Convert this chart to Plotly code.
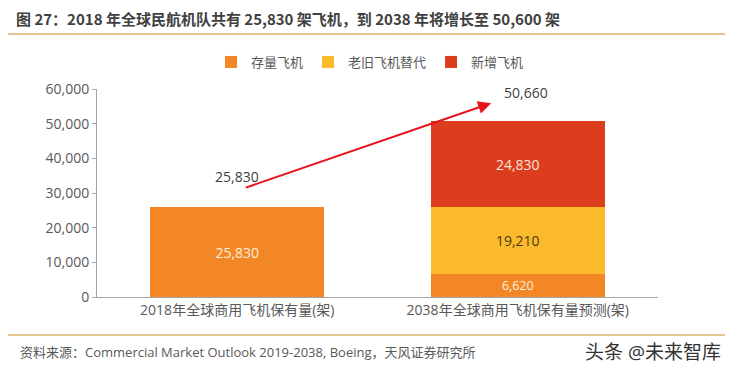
import plotly.graph_objects as go

categories = ["2018年全球商用飞机保有量(架)", "2038年全球商用飞机保有量预测(架)"]
stock = [25830, 6620]
replace = [None, 19210]
new = [None, 24830]
totals = [25830, 50660]
series_names = ["存量飞机", "老旧飞机替代", "新增飞机"]
colors = ["#F38725", "#FBBA2B", "#DC3E1D"]
title_text = "图 27：2018 年全球民航机队共有 25,830 架飞机，到 2038 年将增长至 50,600 架"
source_text = "资料来源：Commercial Market Outlook 2019-2038, Boeing，天风证券研究所"
watermark = "头条 @未来智库"

FONT = "Open Sans, Noto Sans CJK SC, sans-serif"

OFF = 8  # page body margin
W, H = 733, 376
# target plot area in window pixels: x 97..658, y 89..297
L = 97 - OFF
T = 89 - OFF
R = W - (658 - OFF)
B = H - (297 - OFF)
PW, PH = W - L - R, H - T - B

def px(x):
    return (x - OFF - L) / PW

def py(y):
    return (H - B - (y - OFF)) / PH

def fmt(v):
    return "" if v is None else f"{v:,}"

fig = go.Figure()
text_colors = ["#FDF0DC", "#4A3A10", "#FBE3DA"]
for name, vals, col, tc in zip(series_names, [stock, replace, new], colors, text_colors):
    fig.add_trace(go.Bar(
        x=categories, y=vals, name=name, marker=dict(color=col, line=dict(width=0)),
        text=[fmt(v) for v in vals], textposition="inside", insidetextanchor="middle",
        textfont=dict(color=tc, size=14, family=FONT), hoverinfo="skip",
    ))

fig.update_layout(
    barmode="stack", bargap=0.38,
    width=W, height=H,
    margin=dict(l=L, r=R, t=T, b=B, autoexpand=False),
    paper_bgcolor="white", plot_bgcolor="white",
    font=dict(family=FONT, color="#595959", size=13),
    showlegend=True,
    legend=dict(orientation="h", x=px(370), xanchor="center", y=py(62), yanchor="middle",
                font=dict(size=13, color="#595959"), traceorder="normal", itemwidth=30),
)

fig.update_yaxes(range=[0, 60000], dtick=10000, tickformat=",", showgrid=False,
                 showline=True, linecolor="#A6A6A6", linewidth=1, ticks="outside",
                 ticklen=4, tickcolor="#A6A6A6", tickfont=dict(size=14, color="#595959"),
                 zeroline=False)
fig.update_xaxes(showline=True, linecolor="#A6A6A6", linewidth=1, ticks="",
                 tickfont=dict(size=14, color="#595959"))

# total labels
fig.add_annotation(x=0, y=31500, text=fmt(totals[0]), showarrow=False,
                   yanchor="bottom", font=dict(size=14, color="#404040"))
fig.add_annotation(x=1, y=55800, text=fmt(totals[1]), showarrow=False, xshift=8,
                   yanchor="bottom", font=dict(size=14, color="#404040"))

# growth arrow
fig.add_annotation(x=0.905, y=55900, ax=0.025, ay=31400, xref="x", yref="y",
                   axref="x", ayref="y", showarrow=True, arrowhead=2, arrowsize=1.3,
                   arrowwidth=2, arrowcolor="#E8141B", text="")

# title & separators
fig.add_annotation(xref="paper", yref="paper", x=px(14), y=py(18), xanchor="left",
                   yanchor="middle", text="<b>" + title_text + "</b>", showarrow=False,
                   font=dict(size=15, color="#404040", family="Noto Sans CJK SC, sans-serif"))
for yy in (34, 335):
    fig.add_shape(type="line", xref="paper", yref="paper",
                  x0=px(7), x1=px(725), y0=py(yy), y1=py(yy),
                  line=dict(color="#D9B36A", width=1.5))
fig.add_annotation(xref="paper", yref="paper", x=px(18), y=py(352),
                   xanchor="left", yanchor="middle", text=source_text, showarrow=False,
                   font=dict(size=13, color="#595959"))
fig.add_annotation(xref="paper", yref="paper", x=px(723), y=py(352),
                   xanchor="right", yanchor="middle", text=watermark, showarrow=False,
                   font=dict(size=19, color="#333333"))

fig.write_html("out.html")
